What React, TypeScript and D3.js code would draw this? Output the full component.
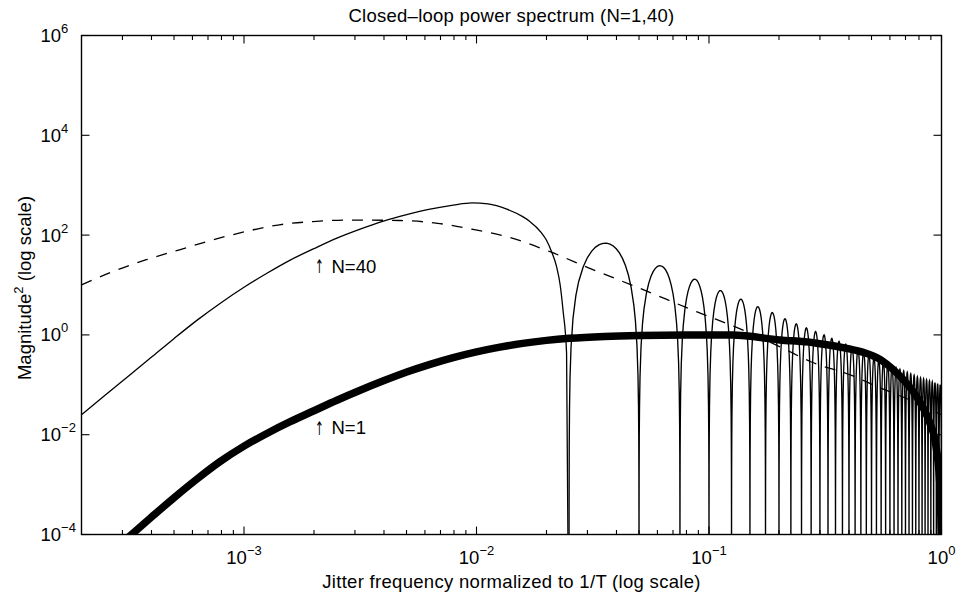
import React, { useMemo } from 'react';
import * as d3 from 'd3';

// ---------- text ----------
const titleText = 'Closed\u2013loop power spectrum (N=1,40)';
const xLabelText = 'Jitter frequency normalized to 1/T (log scale)';
const yLabelMain = 'Magnitude';
const yLabelSup = '2';
const yLabelRest = ' (log scale)';
const arrowText = '\u2191';
const labelN40 = 'N=40';
const labelN1 = 'N=1';

// ---------- axes ----------
const xDomain: [number, number] = [2e-4, 1];
const yDomain: [number, number] = [1e-4, 1e6];
const xTickExps = [-3, -2, -1, 0];
const yTickExps = [-4, -2, 0, 2, 4, 6];
const xMinorMultipliers = [2, 3, 4, 5, 6, 7, 8, 9];
const xMinorDecades = [-4, -3, -2, -1];

// ---------- data ----------
// N=1 closed-loop spectrum (thick line): [frequency, magnitude^2]
const n1Curve: [number, number][] = [
  [3.02e-4, 7.1e-5],
  [3.98e-4, 2.19e-4],
  [5.01e-4, 5.5e-4],
  [6.31e-4, 1.32e-3],
  [7.94e-4, 2.95e-3],
  [1.0e-3, 5.9e-3],
  [1.26e-3, 1.07e-2],
  [1.58e-3, 1.82e-2],
  [2.0e-3, 3.02e-2],
  [2.51e-3, 4.9e-2],
  [3.16e-3, 7.76e-2],
  [3.98e-3, 0.12],
  [5.01e-3, 0.18],
  [6.31e-3, 0.257],
  [7.94e-3, 0.351],
  [1.0e-2, 0.457],
  [1.26e-2, 0.569],
  [1.58e-2, 0.676],
  [2.0e-2, 0.776],
  [2.51e-2, 0.855],
  [3.55e-2, 0.933],
  [5.01e-2, 0.977],
  [7.94e-2, 1.0],
  [0.126, 0.99],
  [0.2018, 0.794],
  [0.281, 0.698],
  [0.391, 0.537],
  [0.461, 0.447],
  [0.544, 0.324],
  [0.621, 0.2],
  [0.686, 0.126],
  [0.757, 0.0724],
  [0.836, 0.0339],
  [0.892, 0.017],
  [0.937, 7.8e-3],
  [0.984, 1.0e-3],
  [0.996, 1.0e-4],
  [0.9995, 1e-7],
];

// dashed curve: [frequency, magnitude^2]
const dashedCurve: [number, number][] = [
  [2.0e-4, 10.1],
  [2.74e-4, 18.7],
  [3.8e-4, 32.1],
  [5.28e-4, 50.8],
  [7.36e-4, 80.5],
  [1.02e-3, 118],
  [1.42e-3, 161],
  [1.98e-3, 187],
  [2.85e-3, 200],
  [4.68e-3, 196],
  [6.95e-3, 170],
  [9.66e-3, 130],
  [1.35e-2, 93],
  [2.07e-2, 46.5],
  [3.07e-2, 21.6],
  [5.04e-2, 8.6],
  [8.83e-2, 2.92],
  [0.14, 1.25],
  [0.208, 0.54],
  [0.274, 0.29],
  [0.416, 0.151],
  [0.532, 0.091],
  [0.73, 0.05],
  [1.0, 0.025],
];

// N=40 main lobe (thin line): [frequency, magnitude^2]
const n40MainLobe: [number, number][] = [
  [2.0e-4, 0.0251],
  [2.51e-4, 0.0603],
  [3.16e-4, 0.145],
  [3.98e-4, 0.351],
  [5.01e-4, 0.851],
  [6.31e-4, 2.0],
  [7.94e-4, 4.37],
  [1.0e-3, 9.0],
  [1.26e-3, 17.4],
  [1.58e-3, 31.6],
  [2.0e-3, 53.7],
  [2.51e-3, 87.1],
  [3.16e-3, 132],
  [3.98e-3, 191],
  [5.01e-3, 257],
  [6.31e-3, 331],
  [7.94e-3, 398],
  [9.55e-3, 442],
  [1.12e-2, 422],
  [1.35e-2, 331],
  [1.58e-2, 234],
  [1.69e-2, 190],
  [1.9e-2, 112],
  [2.0e-2, 79],
  [2.11e-2, 44.7],
  [2.21e-2, 23.4],
  [2.29e-2, 10.0],
  [2.355e-2, 3.16],
  [2.44e-2, 0.43],
  [2.5e-2, 1e-7],
];

// N=40 nulls (ends of each side lobe)
const n40Nulls = [
  0.025, 0.05, 0.075, 0.1, 0.125, 0.15, 0.175, 0.2, 0.225, 0.25,
  0.275, 0.3, 0.325, 0.35, 0.375, 0.4, 0.425, 0.45, 0.475, 0.5,
  0.525, 0.55, 0.575, 0.6, 0.625, 0.65, 0.675, 0.7, 0.725, 0.75,
  0.775, 0.8, 0.825, 0.85, 0.875, 0.9, 0.925, 0.95, 0.975, 1.0,
];

// N=40 side-lobe peak heights, one per lobe between consecutive nulls
const n40LobePeaks = [
  66, 24, 13, 7.7, 5.2, 3.67, 2.79, 2.1, 1.66, 1.38,
  1.17, 1.0, 0.85, 0.74, 0.65, 0.56, 0.5, 0.45, 0.4, 0.355,
  0.316, 0.29, 0.26, 0.24, 0.22, 0.204, 0.19, 0.178, 0.166, 0.155,
  0.145, 0.138, 0.132, 0.126, 0.12, 0.115, 0.11, 0.105, 0.1,
];

// shape of one lobe (fraction across the lobe, fraction of its peak), first half
const lobeProfileHalf: [number, number][] = [
  [0, 0],
  [0.0005, 2.47e-6],
  [0.002, 3.95e-5],
  [0.005, 2.47e-4],
  [0.01, 9.87e-4],
  [0.02, 3.94e-3],
  [0.04, 0.0157],
  [0.07, 0.0476],
  [0.1, 0.0955],
  [0.15, 0.206],
  [0.2, 0.345],
  [0.25, 0.5],
  [0.3, 0.655],
  [0.35, 0.794],
  [0.4, 0.905],
  [0.45, 0.976],
  [0.5, 1],
];

// ---------- layout ----------
const W = 958;
const H = 595;
const plot = { left: 81.5, right: 941.5, top: 35.5, bottom: 534.5 };
const FONT = '"Liberation Sans", Arial, Helvetica, sans-serif';
const FLOOR = 1e-7;

export default function App() {
  const x = d3.scaleLog().domain(xDomain).range([plot.left, plot.right]);
  const y = d3.scaleLog().domain(yDomain).range([plot.bottom, plot.top]);

  const paths = useMemo(() => {
    const smooth = d3
      .line<[number, number]>()
      .x((d) => x(d[0]))
      .y((d) => y(Math.max(d[1], FLOOR)))
      .curve(d3.curveMonotoneX);
    const straight = d3
      .line<[number, number]>()
      .x((d) => x(d[0]))
      .y((d) => y(Math.max(d[1], FLOOR)));

    const profile: [number, number][] = [
      ...lobeProfileHalf,
      ...lobeProfileHalf
        .slice(0, -1)
        .reverse()
        .map(([t, v]) => [1 - t, v] as [number, number]),
    ];
    const centers = n40Nulls.slice(0, -1).map((a, i) => (a + n40Nulls[i + 1]) / 2);
    const env = d3
      .scaleLog()
      .domain(centers)
      .range(n40LobePeaks.map((p) => Math.log10(p)));
    const lobePts: [number, number][] = [];
    n40Nulls.slice(0, -1).forEach((a, i) => {
      const b = n40Nulls[i + 1];
      profile.forEach(([t, v]) => {
        const f = a + t * (b - a);
        lobePts.push([f, Math.pow(10, env(f)) * v]);
      });
    });

    return {
      n1: smooth(n1Curve) || '',
      dashed: smooth(dashedCurve) || '',
      main: smooth(n40MainLobe) || '',
      lobes: straight(lobePts) || '',
    };
  }, []);

  const majorLen = 8;
  const minorLen = 4.5;
  const xMinor: number[] = [];
  xMinorDecades.forEach((e) =>
    xMinorMultipliers.forEach((m) => {
      const v = m * Math.pow(10, e);
      if (v > xDomain[0] * 1.0001 && v < xDomain[1]) xMinor.push(v);
    })
  );
  const supText = (e: number) => (e < 0 ? '\u2212' + String(-e) : String(e));

  return (
    <svg
      width={W}
      height={H}
      viewBox={`0 0 ${W} ${H}`}
      style={{ position: 'absolute', left: 0, top: 0, background: '#fff' }}
      fontFamily={FONT}
    >
      <rect x={0} y={0} width={W} height={H} fill="#fff" />
      <defs>
        <clipPath id="plotClip">
          <rect
            x={plot.left}
            y={plot.top}
            width={plot.right - plot.left}
            height={plot.bottom - plot.top}
          />
        </clipPath>
      </defs>

      {/* curves */}
      <g clipPath="url(#plotClip)" fill="none" stroke="#000">
        <path d={paths.lobes} strokeWidth={1.35} />
        <path d={paths.main} strokeWidth={1.3} />
        <path d={paths.dashed} strokeWidth={1.3} strokeDasharray="11 9" />
        <path d={paths.n1} strokeWidth={7.5} />
      </g>

      {/* axes box */}
      <rect
        x={plot.left}
        y={plot.top}
        width={plot.right - plot.left}
        height={plot.bottom - plot.top}
        fill="none"
        stroke="#000"
        strokeWidth={1.4}
      />

      {/* ticks */}
      <g stroke="#000" strokeWidth={1.1}>
        {xTickExps.map((e) => {
          const px = x(Math.pow(10, e));
          return (
            <g key={'xt' + e}>
              <line x1={px} x2={px} y1={plot.bottom} y2={plot.bottom - majorLen} />
              <line x1={px} x2={px} y1={plot.top} y2={plot.top + majorLen} />
            </g>
          );
        })}
        {xMinor.map((v, i) => {
          const px = x(v);
          return (
            <g key={'xm' + i}>
              <line x1={px} x2={px} y1={plot.bottom} y2={plot.bottom - minorLen} />
              <line x1={px} x2={px} y1={plot.top} y2={plot.top + minorLen} />
            </g>
          );
        })}
        {yTickExps.map((e) => {
          const py = y(Math.pow(10, e));
          return (
            <g key={'yt' + e}>
              <line x1={plot.left} x2={plot.left + majorLen} y1={py} y2={py} />
              <line x1={plot.right} x2={plot.right - majorLen} y1={py} y2={py} />
            </g>
          );
        })}
      </g>

      {/* tick labels */}
      <g fill="#000" fontSize={18.5}>
        {xTickExps.map((e) => (
          <text key={'xl' + e} x={x(Math.pow(10, e))} y={564} textAnchor="middle">
            <tspan>10</tspan>
            <tspan dy={-9} fontSize={13}>
              {supText(e)}
            </tspan>
          </text>
        ))}
        {yTickExps.map((e) => (
          <text key={'yl' + e} x={40.5} y={y(Math.pow(10, e)) + 6.5} textAnchor="start">
            <tspan>10</tspan>
            <tspan dy={-9} fontSize={13}>
              {supText(e)}
            </tspan>
          </text>
        ))}
      </g>

      {/* title and axis labels */}
      <text x={511.5} y={21.7} textAnchor="middle" fontSize={18.5} letterSpacing={0.25}>
        {titleText}
      </text>
      <text x={511.5} y={588} textAnchor="middle" fontSize={18.5} letterSpacing={0.3}>
        {xLabelText}
      </text>
      <text transform="translate(31,288) rotate(-90)" textAnchor="middle" fontSize={18.5}>
        <tspan>{yLabelMain}</tspan>
        <tspan dy={-8} fontSize={13}>
          {yLabelSup}
        </tspan>
        <tspan dy={8}>{yLabelRest}</tspan>
      </text>

      {/* curve annotations */}
      <g fontSize={18.5} fill="#000">
        <text
          transform="translate(319.5,273) scale(0.75,1.35)"
          textAnchor="middle"
          fontFamily='"DejaVu Sans", sans-serif'
          fontSize={14}
        >
          {arrowText}
        </text>
        <text x={331.5} y={272.5}>{labelN40}</text>
        <text
          transform="translate(319.5,434.8) scale(0.75,1.35)"
          textAnchor="middle"
          fontFamily='"DejaVu Sans", sans-serif'
          fontSize={14}
        >
          {arrowText}
        </text>
        <text x={331.5} y={434.3}>{labelN1}</text>
      </g>
    </svg>
  );
}
